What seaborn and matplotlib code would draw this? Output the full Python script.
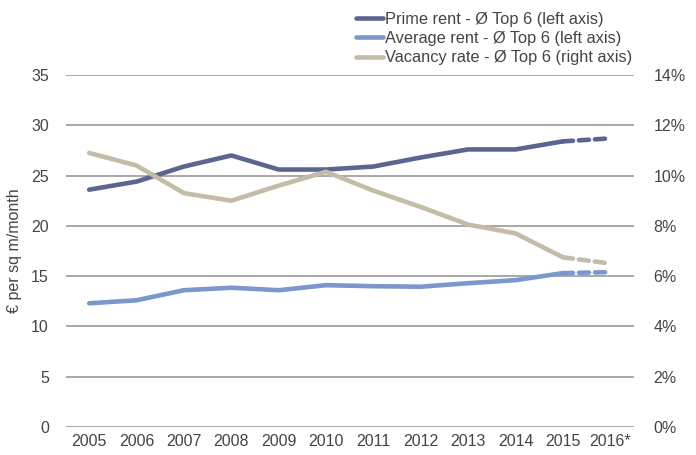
import matplotlib
matplotlib.use("Agg")
import matplotlib.pyplot as plt
import seaborn as sns
import pandas as pd
import numpy as np
from matplotlib.ticker import FuncFormatter

years = ["2005", "2006", "2007", "2008", "2009", "2010", "2011", "2012",
         "2013", "2014", "2015", "2016*"]
prime_rent = [23.6, 24.4, 25.9, 27.0, 25.6, 25.6, 25.9, 26.8, 27.6, 27.6, 28.4, 28.7]
average_rent = [12.3, 12.6, 13.6, 13.85, 13.6, 14.1, 14.0, 13.95, 14.3, 14.6, 15.3, 15.4]
vacancy_rate = [10.9, 10.4, 9.3, 9.0, 9.6, 10.15, 9.4, 8.75, 8.05, 7.7, 6.75, 6.5]

labels = ["Prime rent - Ø Top 6 (left axis)",
          "Average rent - Ø Top 6 (left axis)",
          "Vacancy rate - Ø Top 6 (right axis)"]
colors = ["#5a6690", "#7b97cc", "#c3bca8"]

sns.set_theme(style="white")
plt.rcParams["font.family"] = ["Liberation Sans", "DejaVu Sans"]
text_color = "#444444"

df = pd.DataFrame({"pos": np.arange(len(years)), "year": years,
                   "prime": prime_rent, "avg": average_rent, "vac": vacancy_rate})
actual = df.iloc[:11]
forecast = df.iloc[10:]

fig = plt.figure(figsize=(6.96, 4.55), dpi=100)
ax = fig.add_axes([65.5 / 696, 1 - 427 / 455, (634 - 65.5) / 696, (427 - 75) / 455])
ax2 = ax.twinx()

lw = 3.3
for col, color, axis in [("prime", colors[0], ax), ("avg", colors[1], ax), ("vac", colors[2], ax2)]:
    sns.lineplot(data=actual, x="pos", y=col, color=color, lw=lw, ax=axis,
                 solid_capstyle="round")
    sns.lineplot(data=forecast, x="pos", y=col, color=color, lw=lw, ax=axis,
                 linestyle=(0, (2.2, 1.3)), dash_capstyle="round")

ax.set_xlim(-0.5, len(years) - 0.5)
ax.set_ylim(0, 35)
ax.set_yticks(range(0, 36, 5))
ax2.set_ylim(0, 14)
ax2.set_yticks(range(0, 15, 2))
ax2.yaxis.set_major_formatter(FuncFormatter(lambda v, p: f"{int(v)}%"))
ax.set_xticks(df["pos"])
ax.set_xticklabels(years)

ax.grid(axis="y", color="#9a9a9a", lw=1.2)
ax.grid(axis="x", visible=False)
ax2.grid(False)
for a in (ax, ax2):
    for s in a.spines.values():
        s.set_visible(False)
    a.tick_params(length=0, labelsize=11.5, colors=text_color)
    a.set_xlabel("")
    a.set_ylabel("")
ax.tick_params(axis="y", pad=12)
ax2.tick_params(axis="y", pad=14)
ax.tick_params(axis="x", pad=5)

ax.set_ylabel("€ per sq m/month", fontsize=11.5, color=text_color)
ax.yaxis.set_label_coords((22 - 65.5) / 568.5, 0.5)

handles = [plt.Line2D([], [], color=c, lw=3.3) for c in colors]
fig.legend(handles, labels, loc="upper left", bbox_to_anchor=(349 / 696, 1 - 5 / 455),
           frameon=False, fontsize=11.8, handlelength=1.7, handletextpad=0.1,
           labelspacing=0.27, labelcolor=text_color, borderaxespad=0)

fig.savefig("out.png", dpi=100)
